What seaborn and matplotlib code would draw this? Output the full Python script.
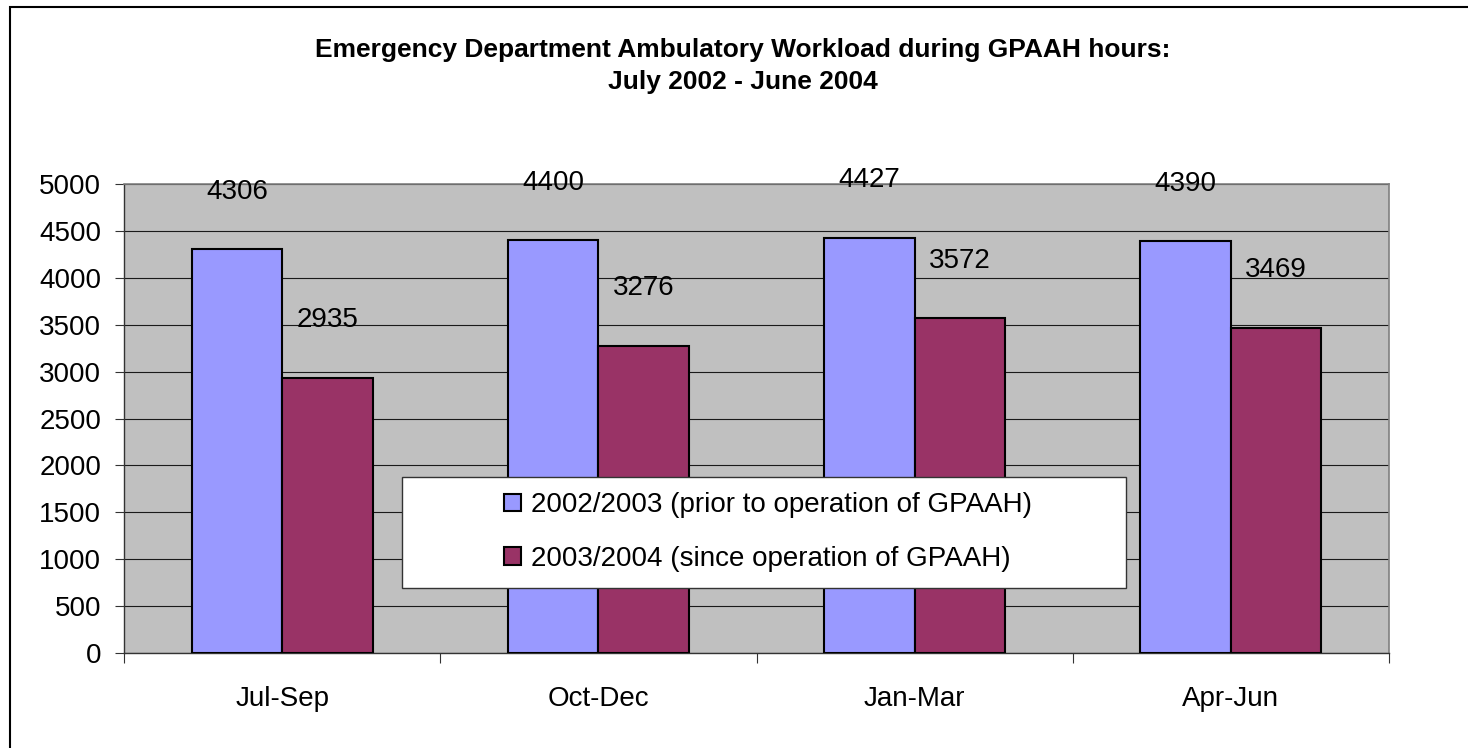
import matplotlib
matplotlib.use("Agg")
import matplotlib.pyplot as plt
import matplotlib.patches as mpatches
import seaborn as sns
import pandas as pd

categories = ["Jul-Sep", "Oct-Dec", "Jan-Mar", "Apr-Jun"]
series_names = ["2002/2003 (prior to operation of GPAAH)",
                "2003/2004 (since operation of GPAAH)"]
values_2002_2003 = [4306, 4400, 4427, 4390]
values_2003_2004 = [2935, 3276, 3572, 3469]
y_ticks = [0, 500, 1000, 1500, 2000, 2500, 3000, 3500, 4000, 4500, 5000]
title_text = "Emergency Department Ambulatory Workload during GPAAH hours:\nJuly 2002 - June 2004"

colors = ["#9999FF", "#993366"]

df = pd.DataFrame({
    "Quarter": categories * 2,
    "Series": [series_names[0]] * 4 + [series_names[1]] * 4,
    "Value": values_2002_2003 + values_2003_2004,
})

sns.set_theme(style="white")
plt.rcParams["font.family"] = ["Liberation Sans", "DejaVu Sans"]
plt.rcParams["text.color"] = "black"

fig = plt.figure(figsize=(14.68, 7.48), dpi=100)
ax = fig.add_axes([124 / 1468, 1 - 653 / 748, (1389 - 124) / 1468, (653 - 184) / 748])
ax.set_facecolor("#C0C0C0")

sns.barplot(data=df, x="Quarter", y="Value", hue="Series", order=categories,
            hue_order=series_names, palette=colors, width=0.572, ax=ax,
            edgecolor="black", linewidth=1.5, saturation=1, legend=True, zorder=3)

ax.set_xlim(-0.5, len(categories) - 0.5)
ax.set_ylim(0, 5000)
ax.set_yticks(y_ticks)
ax.set_yticklabels([str(t) for t in y_ticks])
ax.yaxis.grid(True, color="#1a1a1a", linewidth=0.8, zorder=1)
ax.set_axisbelow(True)
ax.set_xlabel("")
ax.set_ylabel("")

ax.tick_params(axis="y", which="major", left=True, length=6.5, width=0.8,
               color="#333333", labelsize=20, pad=10, labelcolor="black")
ax.tick_params(axis="x", which="major", bottom=True, length=0, labelsize=20,
               pad=24, labelcolor="black")
ax.set_xticks([i - 0.5 for i in range(len(categories) + 1)], minor=True)
ax.tick_params(axis="x", which="minor", bottom=True, length=7, width=0.8, color="#333333")

for side in ["top", "right"]:
    ax.spines[side].set_color("#808080")
    ax.spines[side].set_linewidth(1.2)
for side in ["left", "bottom"]:
    ax.spines[side].set_color("#333333")
    ax.spines[side].set_linewidth(1.0)

for container in ax.containers:
    ax.bar_label(container, labels=[str(int(v)) for v in container.datavalues],
                 padding=32, fontsize=20, color="black")

# Legend
handles, labels = ax.get_legend_handles_labels()
ax.get_legend().remove()
box = mpatches.Rectangle((402 / 1468, 1 - 588 / 748), (1126 - 402) / 1468, (588 - 477) / 748,
                         transform=fig.transFigure, facecolor="white", edgecolor="#333333",
                         linewidth=1.0, zorder=5)
fig.patches.append(box)
leg = fig.legend(handles, labels, loc="center", bbox_to_anchor=(768 / 1468, 1 - 532 / 748),
                 frameon=False, fontsize=20, handlelength=0.6, handleheight=0.6,
                 handletextpad=0.35, labelspacing=1.0, labelcolor="black")
leg.set_zorder(6)
for h in leg.legend_handles:
    h.set_edgecolor("black")
    h.set_linewidth(1.5)

fig.text(0.506, 1 - 66 / 748, title_text, ha="center", va="center", fontsize=19,
         fontweight="bold", linespacing=1.4, color="black")

# Outer frame
frame = mpatches.Rectangle((10 / 1468, -0.1), 1.5, 1.1 - 7 / 748, transform=fig.transFigure,
                           fill=False, edgecolor="black", linewidth=1.5)
fig.patches.append(frame)

fig.savefig("out.png", dpi=100)
